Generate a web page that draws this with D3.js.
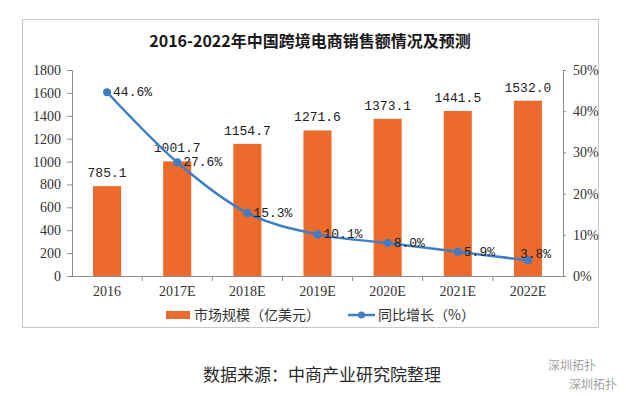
<!DOCTYPE html>
<html>
<head>
<meta charset="utf-8">
<script src="https://cdn.jsdelivr.net/npm/d3@7"></script>
<style>
  body { margin: 0; background: #fff; }
  svg { display: block; }
</style>
</head>
<body>
<div id="vis"></div>
<script>
// chart data
const YEARS = ["2016", "2017E", "2018E", "2019E", "2020E", "2021E", "2022E"];
const SALES = [785.1, 1001.7, 1154.7, 1271.6, 1373.1, 1441.5, 1532.0];
const GROWTH = [44.6, 27.6, 15.3, 10.1, 8.0, 5.9, 3.8];
const LEFT_TICKS = [0, 200, 400, 600, 800, 1000, 1200, 1400, 1600, 1800];
const RIGHT_TICKS = [0, 10, 20, 30, 40, 50];

const WIDTH = 626;
const HEIGHT = 396;
const MARGINS = {left: 72, right: 63, top: 70, bottom: 120};
const VIS_WIDTH = WIDTH - MARGINS.left - MARGINS.right;
const VIS_HEIGHT = HEIGHT - MARGINS.top - MARGINS.bottom;

const ORANGE = "#ec6a2c";
const BLUE = "#3d7ec6";
const AXIS = "#8c8c8c";
const NUM_FONT = "'Liberation Serif', serif";
const MONO_FONT = "'Liberation Mono', monospace";
const CJK_FONT = "'Noto Sans CJK SC', sans-serif";

const svg = d3.select("#vis")
  .append("svg")
    .attr("width", WIDTH)
    .attr("height", HEIGHT);

// outer frame
svg.append("rect")
    .attr("x", 22.5).attr("y", 19.5)
    .attr("width", 576).attr("height", 308)
    .attr("fill", "none")
    .attr("stroke", "#c8c8c8");

svg.append("text")
    .attr("x", 310).attr("y", 47)
    .attr("text-anchor", "middle")
    .attr("font-family", CJK_FONT)
    .attr("font-weight", "bold")
    .attr("font-size", 16)
    .attr("fill", "#1a1a1a")
    .text("2016-2022年中国跨境电商销售额情况及预测");

const X = d3.scaleBand()
  .domain(YEARS)
  .range([0, VIS_WIDTH])
  .paddingInner(0.6)
  .paddingOuter(0.3);

const X_EDGE = d3.scaleBand().domain(YEARS).range([0, VIS_WIDTH]);

const Y = d3.scaleLinear().domain([0, 1800]).range([VIS_HEIGHT, 0]);
const Y2 = d3.scaleLinear().domain([0, 50]).range([VIS_HEIGHT, 0]);

const g = svg.append("g")
    .attr("transform", "translate(" + MARGINS.left + "," + MARGINS.top + ")");

// left axis
const leftAxis = g.append("g")
    .call(d3.axisLeft(Y).tickValues(LEFT_TICKS).tickSize(5).tickPadding(6)
      .tickFormat(d3.format("d")));
leftAxis.selectAll("text").attr("font-family", NUM_FONT).attr("font-size", 14).attr("fill", "#333");

// right axis
const rightAxis = g.append("g")
    .attr("transform", "translate(" + VIS_WIDTH + ",0)")
    .call(d3.axisRight(Y2).tickValues(RIGHT_TICKS).tickSize(3).tickPadding(7)
      .tickFormat((d) => d + "%"));
rightAxis.selectAll("text").attr("font-family", NUM_FONT).attr("font-size", 14).attr("fill", "#333");

// bottom axis with ticks between categories
const bottomAxis = g.append("g")
    .attr("transform", "translate(0," + VIS_HEIGHT + ")")
    .call(d3.axisBottom(X).tickSize(0).tickPadding(10));
bottomAxis.selectAll("text").attr("font-family", NUM_FONT).attr("font-size", 14).attr("fill", "#333");
bottomAxis.selectAll(".edge")
  .data(YEARS.slice(1))
  .enter()
  .append("line")
    .attr("class", "edge")
    .attr("x1", (d) => X_EDGE(d)).attr("x2", (d) => X_EDGE(d))
    .attr("y1", 0).attr("y2", 5)
    .attr("stroke", AXIS);

g.selectAll(".domain").attr("stroke", AXIS);
g.selectAll(".tick line").attr("stroke", AXIS);

// bars
g.selectAll(".bar")
  .data(SALES)
  .enter()
  .append("rect")
    .attr("class", "bar")
    .attr("x", (d, i) => X(YEARS[i]))
    .attr("y", (d) => Y(d))
    .attr("width", X.bandwidth())
    .attr("height", (d) => VIS_HEIGHT - Y(d))
    .attr("fill", ORANGE);

g.selectAll(".barlabel")
  .data(SALES)
  .enter()
  .append("text")
    .attr("x", (d, i) => X(YEARS[i]) + X.bandwidth() / 2)
    .attr("y", (d) => Y(d) - 9)
    .attr("text-anchor", "middle")
    .attr("font-family", MONO_FONT)
    .attr("font-size", 13)
    .attr("fill", "#222")
    .text((d) => d.toFixed(1));

// growth line
const cx = (i) => X(YEARS[i]) + X.bandwidth() / 2;
const line = d3.line()
  .x((d, i) => cx(i))
  .y((d) => Y2(d))
  .curve(d3.curveMonotoneX);

g.append("path")
    .datum(GROWTH)
    .attr("d", line)
    .attr("fill", "none")
    .attr("stroke", BLUE)
    .attr("stroke-width", 2.5);

g.selectAll(".pt")
  .data(GROWTH)
  .enter()
  .append("circle")
    .attr("cx", (d, i) => cx(i))
    .attr("cy", (d) => Y2(d))
    .attr("r", 4)
    .attr("fill", BLUE);

const last = GROWTH.length - 1;
g.selectAll(".ptlabel")
  .data(GROWTH)
  .enter()
  .append("text")
    .attr("x", (d, i) => cx(i) + (i === last ? -8 : 6))
    .attr("y", (d, i) => Y2(d) + (i === last ? -2 : 4))
    .attr("font-family", MONO_FONT)
    .attr("font-size", 13)
    .attr("fill", "#222")
    .text((d) => d.toFixed(1) + "%");

// legend
const legend = svg.append("g").attr("transform", "translate(0,315)");
legend.append("rect")
    .attr("x", 166).attr("y", -4)
    .attr("width", 24).attr("height", 8)
    .attr("fill", ORANGE);
legend.append("text")
    .attr("x", 194).attr("y", 5)
    .attr("font-family", CJK_FONT)
    .attr("font-size", 14)
    .attr("fill", "#333")
    .text("市场规模（亿美元）");
legend.append("line")
    .attr("x1", 348).attr("x2", 375)
    .attr("y1", 0).attr("y2", 0)
    .attr("stroke", BLUE)
    .attr("stroke-width", 2.5);
legend.append("circle")
    .attr("cx", 361.5).attr("cy", 0).attr("r", 3.5)
    .attr("fill", BLUE);
legend.append("text")
    .attr("x", 378).attr("y", 5)
    .attr("font-family", CJK_FONT)
    .attr("font-size", 14)
    .attr("fill", "#333")
    .text("同比增长（%）");

// source note
svg.append("text")
    .attr("x", 203).attr("y", 381)
    .attr("font-family", CJK_FONT)
    .attr("font-size", 17)
    .attr("fill", "#2a2a2a")
    .text("数据来源：中商产业研究院整理");

// corner mark
svg.append("text")
    .attr("x", 548).attr("y", 370)
    .attr("font-family", CJK_FONT)
    .attr("font-size", 12)
    .attr("fill", "#a0a0a0")
    .text("深圳拓扑");
svg.append("text")
    .attr("x", 569).attr("y", 389)
    .attr("font-family", CJK_FONT)
    .attr("font-size", 12)
    .attr("fill", "#a0a0a0")
    .text("深圳拓扑");
</script>
</body>
</html>
